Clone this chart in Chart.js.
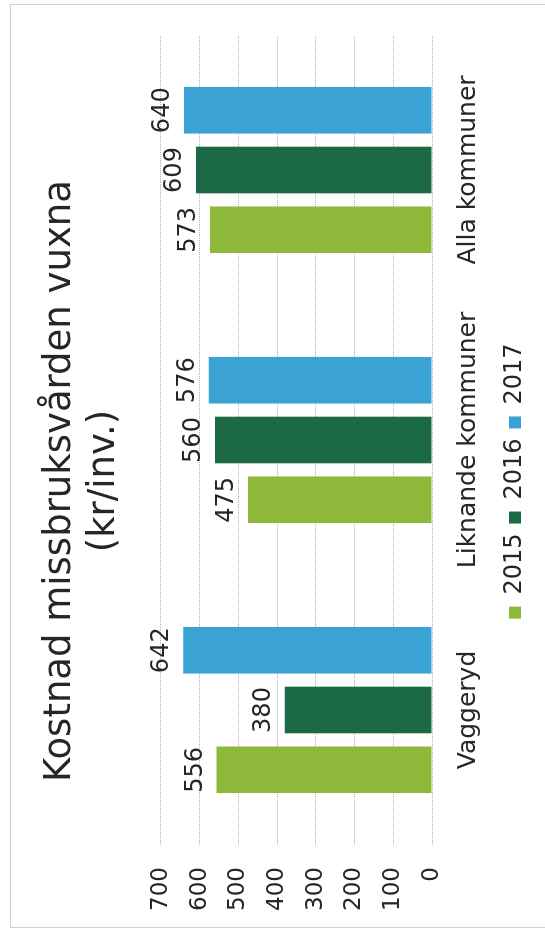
<!DOCTYPE html>
<html>
<head>
<meta charset="utf-8">
<script src="https://cdn.jsdelivr.net/npm/chart.js@4.4.1/dist/chart.umd.min.js"></script>
<style>
  html, body { margin: 0; padding: 0; background: #fff; overflow: hidden; }
  /* diagrammet ligger på sidan, vridet ett kvarts varv */
  #vrid { position: absolute; left: 0; top: 0; width: 935px; height: 545px;
          transform-origin: 0 0; transform: translate(0, 935px) rotate(-90deg); }
  #ram { position: absolute; left: 7px; top: 10px; width: 922px; height: 545px;
         border: 1px solid #d0d0d0; border-bottom: none; }
  canvas { position: absolute; left: 0; top: 0; }
</style>
</head>
<body>
<div id="vrid">
  <div id="ram"></div>
  <canvas id="grafico" width="935" height="545"></canvas>
</div>
<script>
const kategorier = ["Vaggeryd", "Liknande kommuner", "Alla kommuner"];
const ar = ["2015", "2016", "2017"];
const varden2015 = [556, 475, 573];
const varden2016 = [380, 560, 609];
const varden2017 = [642, 576, 640];
const yMin = 0, yMax = 700, ySteg = 100;
const farger = ["#8eb93b", "#1c6a45", "#3aa3d3"];

const FONT = "'DejaVu Sans', Verdana, sans-serif";
const TEXT = "#262626";

// värdet skrivs ovanför varje stapel
const stapelEtiketter = {
    id: "stapelEtiketter",
    afterDatasetsDraw(chart) {
        const ctx = chart.ctx;
        ctx.save();
        ctx.font = "24px " + FONT;
        ctx.fillStyle = TEXT;
        ctx.textAlign = "center";
        ctx.textBaseline = "alphabetic";
        chart.data.datasets.forEach((ds, i) => {
            chart.getDatasetMeta(i).data.forEach((bar, j) => {
                ctx.fillText(ds.data[j], bar.x, bar.y - 15);
            });
        });
        ctx.restore();
    }
};

const ctx = document.getElementById("grafico").getContext("2d");

new Chart(ctx, {
    type: "bar",
    data: {
        labels: kategorier,
        datasets: [
            { label: ar[0], data: varden2015, backgroundColor: farger[0] },
            { label: ar[1], data: varden2016, backgroundColor: farger[1] },
            { label: ar[2], data: varden2017, backgroundColor: farger[2] }
        ]
    },
    options: {
        responsive: false,
        animation: false,
        devicePixelRatio: 1,
        categoryPercentage: 0.664,
        barPercentage: 0.78,
        layout: { padding: { left: 8, right: 35, top: 0, bottom: 8 } },
        plugins: {
            title: {
                display: true,
                text: ["Kostnad missbruksvården vuxna", "(kr/inv.)"],
                color: TEXT,
                font: { family: FONT, size: 37, weight: "normal", lineHeight: 1.2 },
                padding: { top: 38, bottom: 34 }
            },
            legend: {
                position: "bottom",
                labels: {
                    color: TEXT,
                    font: { family: FONT, size: 24 },
                    boxWidth: 12,
                    boxHeight: 12,
                    padding: 10
                }
            },
            tooltip: { enabled: false }
        },
        scales: {
            x: {
                grid: { display: false },
                border: { display: false },
                ticks: { color: TEXT, font: { family: FONT, size: 25 }, padding: 13 },
                afterFit: s => { s.height = 61; }
            },
            y: {
                min: yMin,
                max: yMax,
                ticks: { stepSize: ySteg, color: TEXT, font: { family: FONT, size: 23 }, padding: 22 },
                grid: { color: "#b0b0b0", drawTicks: false },
                border: { display: false, dash: [1, 1] },
                afterFit: s => { s.width = 82; }
            }
        }
    },
    plugins: [stapelEtiketter]
});
</script>
</body>
</html>
